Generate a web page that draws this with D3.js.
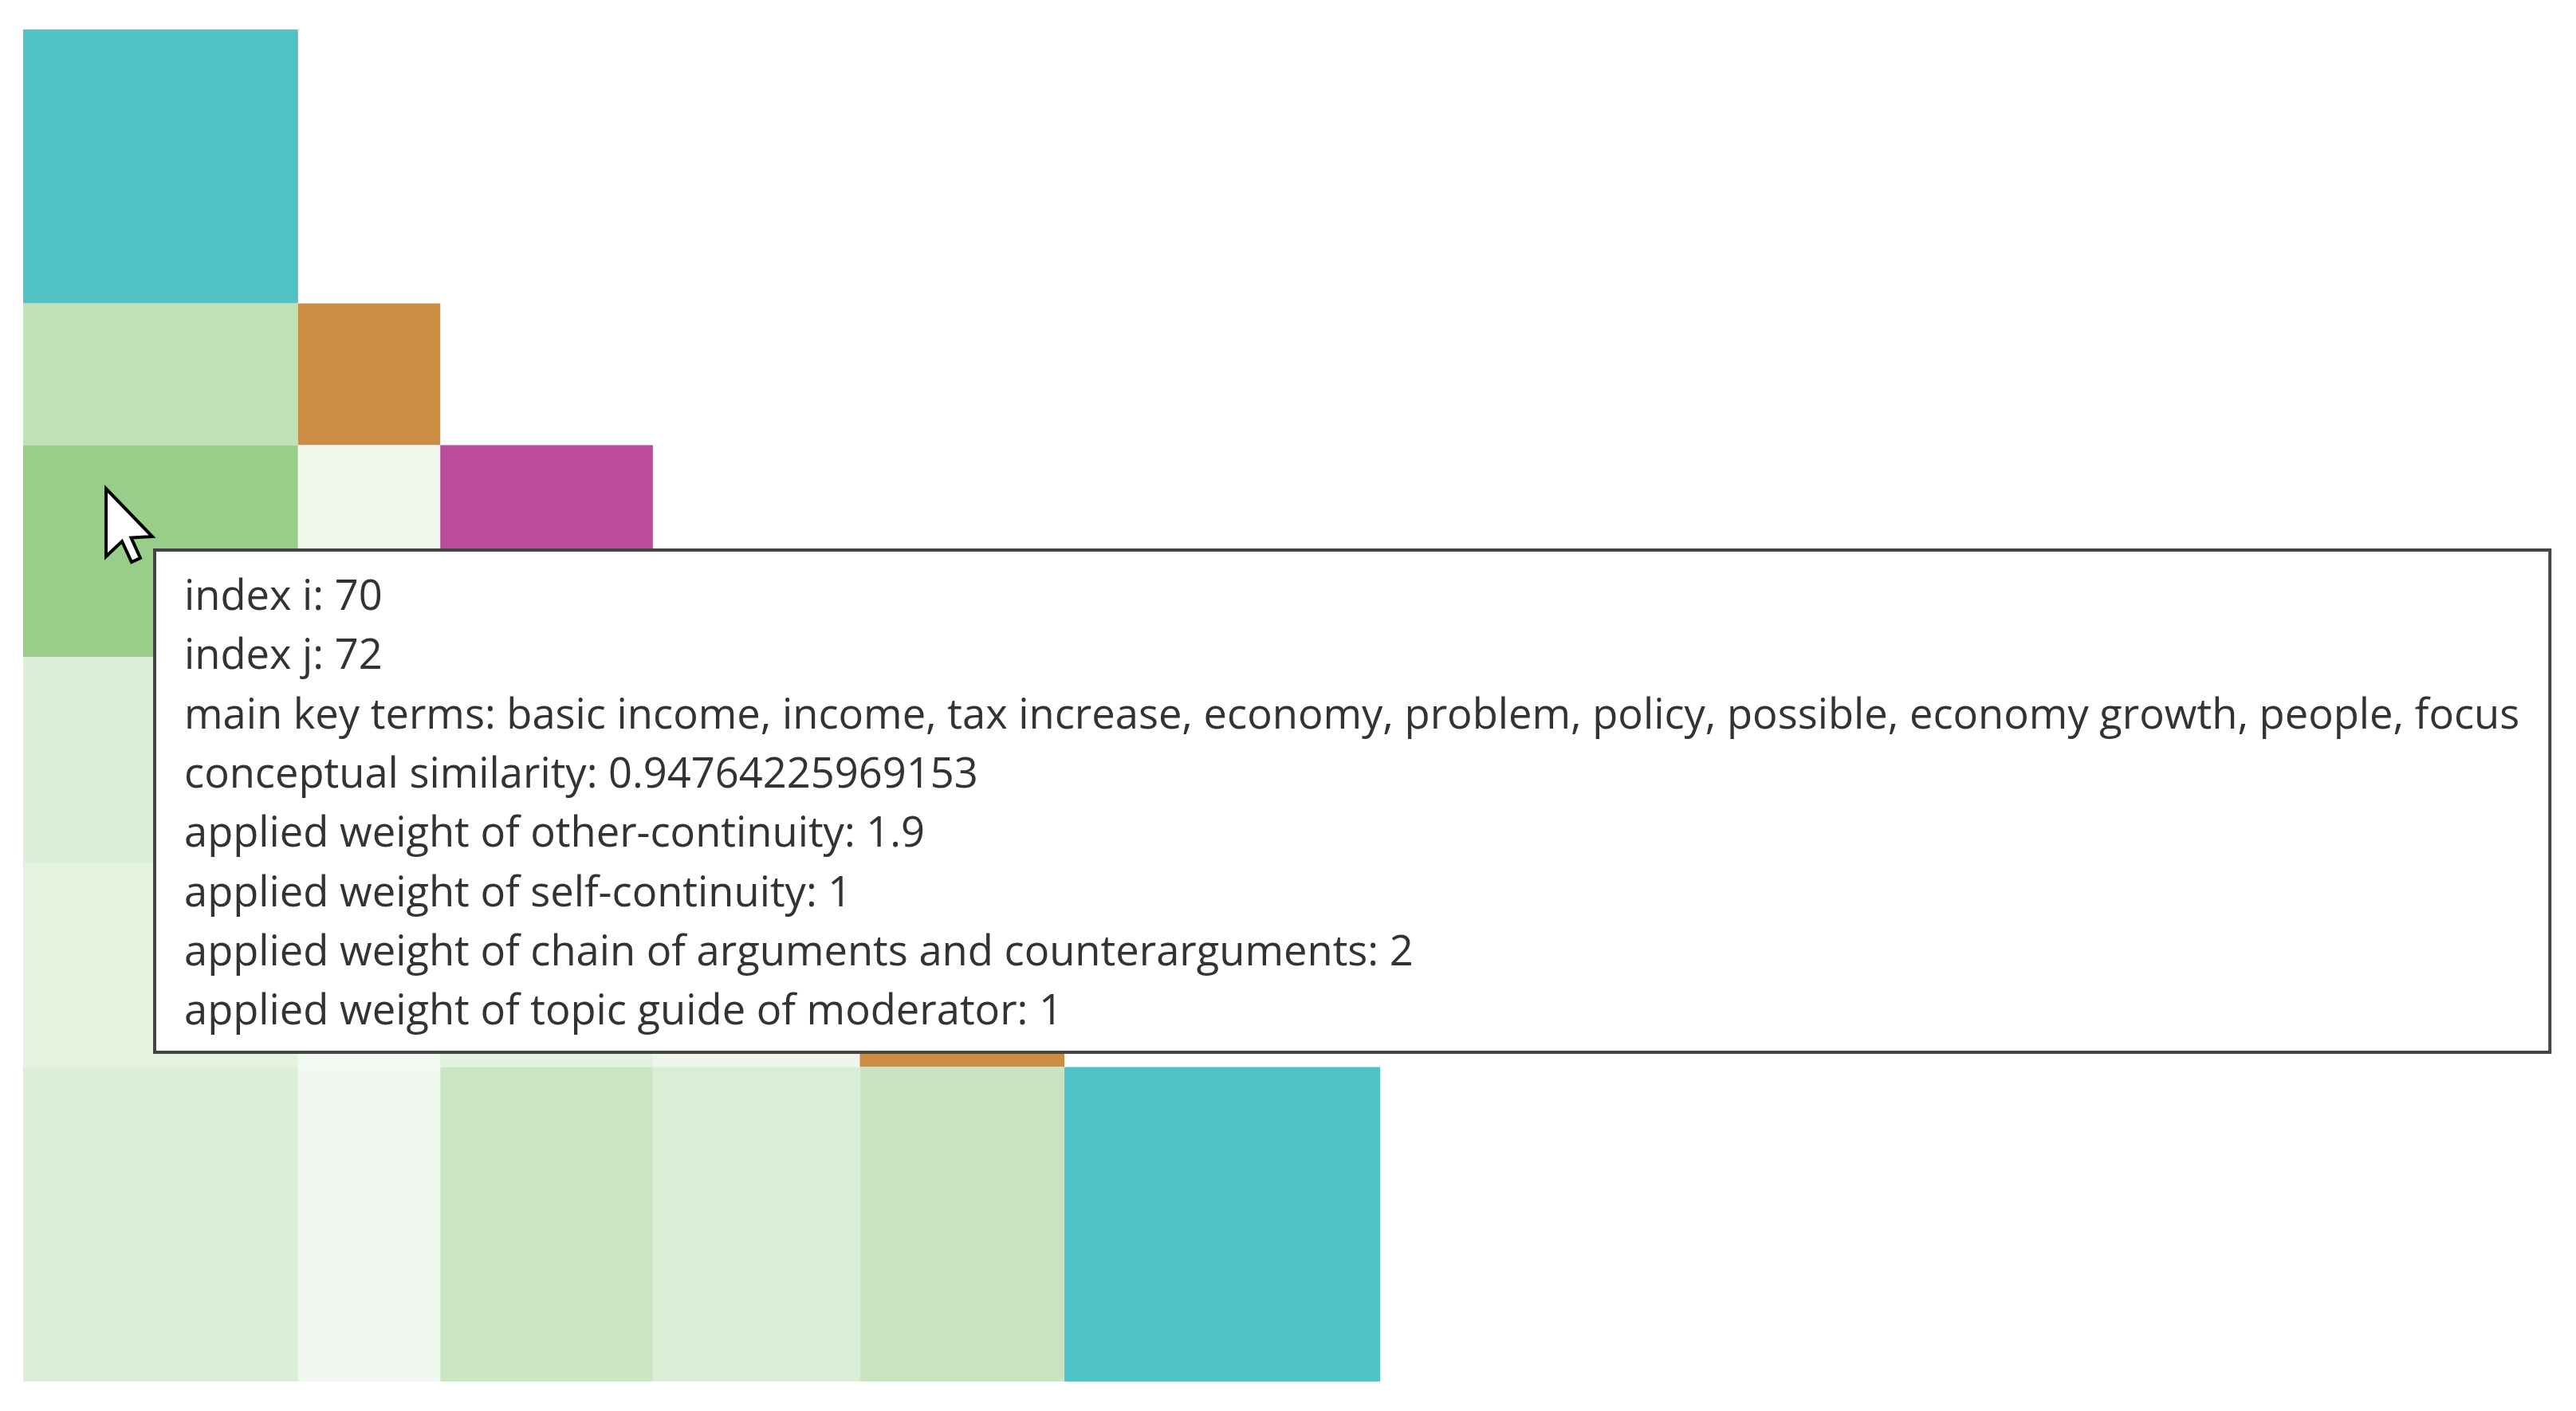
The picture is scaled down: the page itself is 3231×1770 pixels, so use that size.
<!DOCTYPE html>
<html>
<head>
<meta charset="utf-8">
<script src="https://cdn.jsdelivr.net/npm/d3@7"></script>
<style>
  body { margin: 0; background: #fff; }
  svg { display: block; }
</style>
</head>
<body>
<div id="chart"></div>
<script>
// segments (utterances) along both axes
var segIndex = [70, 71, 72, 73, 74, 75];
var segLength = [344, 178, 266, 259, 256, 395];
var segSpeaker = ["S1", "S2", "S3", "S3", "S2", "S1"];

var speakers = ["S1", "S2", "S3"];
var speakerColors = ["#50c2c5", "#cb8d42", "#bb4c9c"];

// weighted similarity for the lower triangle, row i / col j (j < i)
var simRows = [
  [],
  [0.57],
  [1.00, 0.07],
  [0.28, 0.15, 0.30],
  [0.20, 0.05, 0.21, 0.10],
  [0.28, 0.06, 0.47, 0.31, 0.49]
];

// tooltip contents
var keyTerms = ["basic income", "income", "tax increase", "economy", "problem",
  "policy", "possible", "economy growth", "people", "focus"];
var tipLabels = ["index i", "index j", "main key terms", "conceptual similarity",
  "applied weight of other-continuity", "applied weight of self-continuity",
  "applied weight of chain of arguments and counterarguments",
  "applied weight of topic guide of moderator"];
var tipValues = ["70", "72", keyTerms.join(", "), "0.94764225969153", "1.9", "1", "2", "1"];

let svgWidth = 3231;
let svgHeight = 1770;

var svg = d3.select("#chart")
  .append("svg")
  .attr("width", svgWidth)
  .attr("height", svgHeight);

var starts = [0].concat(Array.from(d3.cumsum(segLength)));
var total = d3.sum(segLength);

var xscale = d3.scaleLinear().domain([0, total]).range([29, 1731]);
var yscale = d3.scaleLinear().domain([0, total]).range([37, 1733]);

var simColor = d3.scaleLinear()
  .domain([0, 1])
  .range(["#f7fbf6", "#98cd8a"]);

var speakerColor = d3.scaleOrdinal()
  .domain(speakers)
  .range(speakerColors);

// build cells
var cells = [];
for (let i = 0; i < segIndex.length; i++) {
  for (let j = 0; j <= i; j++) {
    cells.push({
      i: i, j: j,
      diag: i == j,
      value: i == j ? null : simRows[i][j]
    });
  }
}

svg.append("g")
  .selectAll("rect")
  .data(cells)
  .enter()
  .append("rect")
  .attr("x", d => xscale(starts[d.j]))
  .attr("y", d => yscale(starts[d.i]))
  .attr("width", d => xscale(starts[d.j + 1]) - xscale(starts[d.j]))
  .attr("height", d => yscale(starts[d.i + 1]) - yscale(starts[d.i]))
  .attr("fill", d => d.diag ? speakerColor(segSpeaker[d.i]) : simColor(d.value));

// mouse cursor over cell (2,0)
var cursor = svg.append("path")
  .attr("d", "M0,0 L0,17 L4,13.2 L6.4,18.4 L8.6,17.4 L6.3,12.3 L11.6,12 Z")
  .attr("fill", "#fff")
  .attr("stroke", "#000")
  .attr("stroke-width", 0.8)
  .attr("stroke-linejoin", "miter")
  .attr("transform", "translate(133,613) scale(5)");

// tooltip
var tip = svg.append("g");
var tipBox = tip.append("rect")
  .attr("fill", "#fff")
  .attr("stroke", "#444")
  .attr("stroke-width", 4);

var tipText = tip.selectAll("text")
  .data(tipLabels)
  .enter()
  .append("text")
  .attr("x", 231)
  .attr("y", (d, k) => 765 + k * 74.3)
  .attr("fill", "#333")
  .style("font-family", "'Segoe UI', 'Open Sans', sans-serif")
  .style("font-size", "50px")
  .text((d, k) => d + ": " + tipValues[k]);

// fit font so the longest line spans like the original
var longest = d3.max(tipText.nodes(), n => n.getComputedTextLength());
var fs = 50 * 2930 / longest;
tipText.style("font-size", fs + "px");
longest = d3.max(tipText.nodes(), n => n.getComputedTextLength());

tipBox
  .attr("x", 194)
  .attr("y", 690)
  .attr("width", 231 - 194 + longest + 38)
  .attr("height", 630);
</script>
</body>
</html>
